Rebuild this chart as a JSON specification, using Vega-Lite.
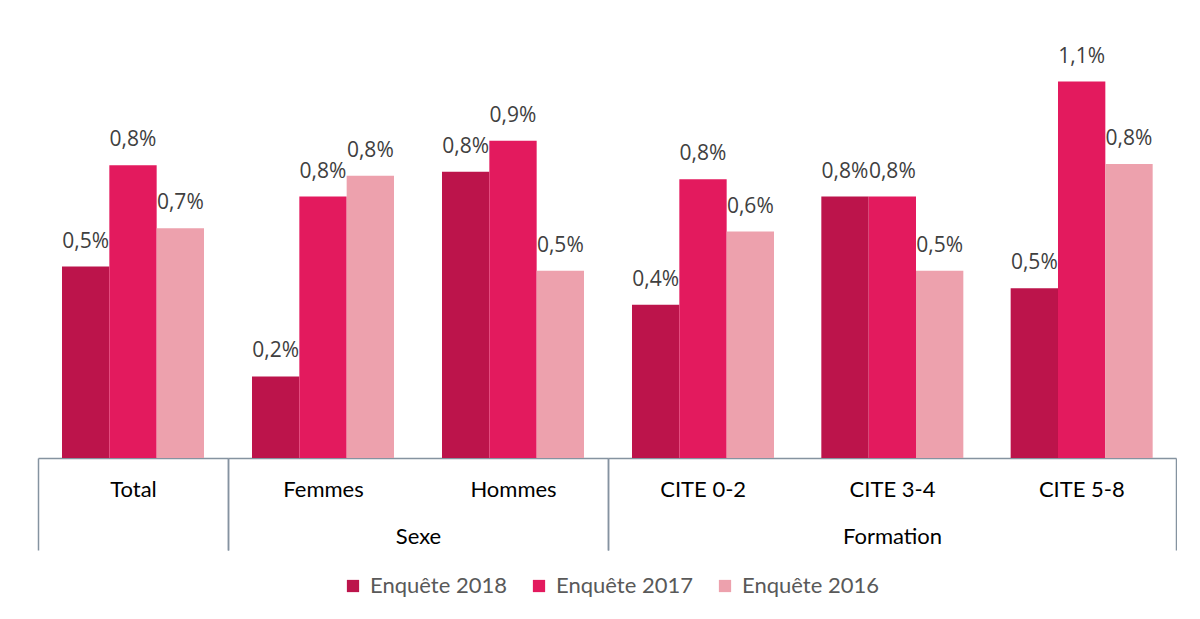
{
  "$schema": "https://vega.github.io/schema/vega-lite/v6.json",
  "padding": {"top": 40, "left": 37, "right": 0, "bottom": 0},
  "background": "white",
  "bounds": "flush",
  "data": {
    "values": [
      {"groupe": "Total", "categorie": "Total", "serie": "Enquête 2018", "valeur": 0.563, "label": "0,5%"},
      {"groupe": "Total", "categorie": "Total", "serie": "Enquête 2017", "valeur": 0.861, "label": "0,8%"},
      {"groupe": "Total", "categorie": "Total", "serie": "Enquête 2016", "valeur": 0.676, "label": "0,7%"},
      {"groupe": "Sexe", "categorie": "Femmes", "serie": "Enquête 2018", "valeur": 0.240, "label": "0,2%"},
      {"groupe": "Sexe", "categorie": "Femmes", "serie": "Enquête 2017", "valeur": 0.769, "label": "0,8%"},
      {"groupe": "Sexe", "categorie": "Femmes", "serie": "Enquête 2016", "valeur": 0.830, "label": "0,8%"},
      {"groupe": "Sexe", "categorie": "Hommes", "serie": "Enquête 2018", "valeur": 0.842, "label": "0,8%"},
      {"groupe": "Sexe", "categorie": "Hommes", "serie": "Enquête 2017", "valeur": 0.933, "label": "0,9%"},
      {"groupe": "Sexe", "categorie": "Hommes", "serie": "Enquête 2016", "valeur": 0.551, "label": "0,5%"},
      {"groupe": "Formation", "categorie": "CITE 0-2", "serie": "Enquête 2018", "valeur": 0.451, "label": "0,4%"},
      {"groupe": "Formation", "categorie": "CITE 0-2", "serie": "Enquête 2017", "valeur": 0.820, "label": "0,8%"},
      {"groupe": "Formation", "categorie": "CITE 0-2", "serie": "Enquête 2016", "valeur": 0.666, "label": "0,6%"},
      {"groupe": "Formation", "categorie": "CITE 3-4", "serie": "Enquête 2018", "valeur": 0.769, "label": "0,8%"},
      {"groupe": "Formation", "categorie": "CITE 3-4", "serie": "Enquête 2017", "valeur": 0.769, "label": "0,8%"},
      {"groupe": "Formation", "categorie": "CITE 3-4", "serie": "Enquête 2016", "valeur": 0.551, "label": "0,5%"},
      {"groupe": "Formation", "categorie": "CITE 5-8", "serie": "Enquête 2018", "valeur": 0.499, "label": "0,5%"},
      {"groupe": "Formation", "categorie": "CITE 5-8", "serie": "Enquête 2017", "valeur": 1.107, "label": "1,1%"},
      {"groupe": "Formation", "categorie": "CITE 5-8", "serie": "Enquête 2016", "valeur": 0.865, "label": "0,8%"}
    ]
  },
  "hconcat": [
    {
      "width": 190, "height": 418,
      "transform": [{"filter": "datum.groupe === 'Total'"}],
      "encoding": {
        "x": {"field": "categorie", "type": "nominal", "sort": ["Total"],
              "scale": {"paddingInner": 0, "paddingOuter": 0},
              "axis": {"title": null}},
        "y": {"field": "valeur", "type": "quantitative", "scale": {"domain": [0, 1.2294], "nice": false, "zero": true}, "axis": null},
        "xOffset": {"field": "serie", "type": "nominal", "sort": ["Enquête 2018", "Enquête 2017", "Enquête 2016"], "scale": {"paddingInner": 0, "paddingOuter": 0.507}}
      },
      "layer": [
        {"mark": {"type": "bar"},
         "encoding": {"color": {"field": "serie", "type": "nominal", "sort": ["Enquête 2018", "Enquête 2017", "Enquête 2016"],
            "scale": {"domain": ["Enquête 2018", "Enquête 2017", "Enquête 2016"], "range": ["#BC144B", "#E31A5E", "#EDA1AD"]},
            "legend": {"title": null}}}},
        {"mark": {"type": "text", "font": "Open Sans", "fontSize": 21, "color": "#404040", "baseline": "alphabetic", "dy": -19},
         "encoding": {"text": {"field": "label"}}}
      ]
    },
    {
      "width": 380, "height": 418,
      "transform": [{"filter": "datum.groupe === 'Sexe'"}],
      "encoding": {
        "x": {"field": "categorie", "type": "nominal", "sort": ["Femmes", "Hommes"],
              "scale": {"paddingInner": 0, "paddingOuter": 0},
              "axis": {"title": "Sexe", "tickOpacity": {"condition": {"test": "datum.value === 'Femmes'", "value": 0}, "value": 1}}},
        "y": {"field": "valeur", "type": "quantitative", "scale": {"domain": [0, 1.2294], "nice": false, "zero": true}, "axis": null},
        "xOffset": {"field": "serie", "type": "nominal", "sort": ["Enquête 2018", "Enquête 2017", "Enquête 2016"], "scale": {"paddingInner": 0, "paddingOuter": 0.507}}
      },
      "layer": [
        {"mark": {"type": "bar"},
         "encoding": {"color": {"field": "serie", "type": "nominal", "sort": ["Enquête 2018", "Enquête 2017", "Enquête 2016"],
            "scale": {"domain": ["Enquête 2018", "Enquête 2017", "Enquête 2016"], "range": ["#BC144B", "#E31A5E", "#EDA1AD"]},
            "legend": {"title": null}}}},
        {"mark": {"type": "text", "font": "Open Sans", "fontSize": 21, "color": "#404040", "baseline": "alphabetic", "dy": -19},
         "encoding": {"text": {"field": "label"}}}
      ]
    },
    {
      "width": 568, "height": 418,
      "transform": [{"filter": "datum.groupe === 'Formation'"}],
      "encoding": {
        "x": {"field": "categorie", "type": "nominal", "sort": ["CITE 0-2", "CITE 3-4", "CITE 5-8"],
              "scale": {"paddingInner": 0, "paddingOuter": 0},
              "axis": {"title": "Formation", "tickOpacity": {"condition": {"test": "datum.value === 'CITE 0-2' || datum.value === 'CITE 3-4'", "value": 0}, "value": 1}}},
        "y": {"field": "valeur", "type": "quantitative", "scale": {"domain": [0, 1.2294], "nice": false, "zero": true}, "axis": null},
        "xOffset": {"field": "serie", "type": "nominal", "sort": ["Enquête 2018", "Enquête 2017", "Enquête 2016"], "scale": {"paddingInner": 0, "paddingOuter": 0.507}}
      },
      "layer": [
        {"mark": {"type": "bar"},
         "encoding": {"color": {"field": "serie", "type": "nominal", "sort": ["Enquête 2018", "Enquête 2017", "Enquête 2016"],
            "scale": {"domain": ["Enquête 2018", "Enquête 2017", "Enquête 2016"], "range": ["#BC144B", "#E31A5E", "#EDA1AD"]},
            "legend": {"title": null}}}},
        {"mark": {"type": "text", "font": "Open Sans", "fontSize": 21, "color": "#404040", "baseline": "alphabetic", "dy": -19},
         "encoding": {"text": {"field": "label"}}}
      ]
    }
  ],
  "resolve": {"scale": {"y": "shared", "color": "shared"}},
  "config": {
    "concat": {"spacing": 0},
    "view": {"stroke": null},
    "axisX": {
      "domain": true, "domainColor": "#8593A0", "domainWidth": 1.5,
      "ticks": true, "tickBand": "extent", "tickSize": 92, "tickColor": "#8593A0", "tickWidth": 1.5,
      "labelAngle": 0, "labelFont": "Lato", "labelFontSize": 22, "labelColor": "#000000",
      "labelBaseline": "middle", "labelPadding": -61,
      "titleFont": "Lato", "titleFontSize": 22, "titleFontWeight": "normal", "titleColor": "#000000",
      "titleBaseline": "middle", "titleY": 78,
      "grid": false
    },
    "legend": {
      "orient": "none", "legendX": 304, "legendY": 535, "direction": "horizontal",
      "symbolType": "square", "symbolSize": 150, "symbolStrokeWidth": 0,
      "labelFont": "Lato", "labelFontSize": 22, "labelColor": "#595959",
      "labelOffset": 6, "columnPadding": 21
    }
  }
}
